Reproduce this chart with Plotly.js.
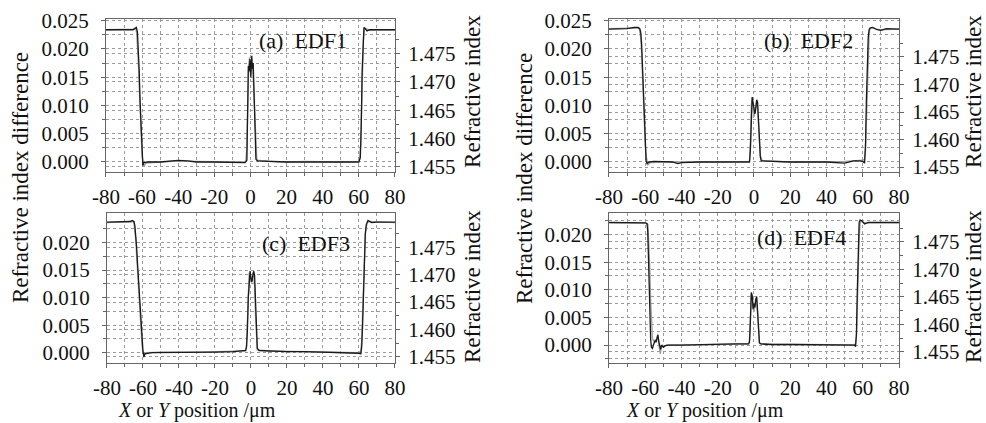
<!DOCTYPE html>
<html>
<head>
<meta charset="utf-8">
<script src="https://cdn.plot.ly/plotly-3.0.1.min.js"></script>
<style>html,body{margin:0;padding:0;background:#fff;}#chart{width:986px;height:423px;}</style>
</head>
<body>
<div id="chart"></div>
<script>
// ---------- data ----------
const xTickVals = [-80, -60, -40, -20, 0, 20, 40, 60, 80];
const xTickText = ['-80', '-60', '-40', '-20', '0', '20', '40', '60', '80'];
const diffTickVals = [0, 0.005, 0.010, 0.015, 0.020, 0.025];
const diffTickText = ['0.000', '0.005', '0.010', '0.015', '0.020', '0.025'];
const nTickVals = [1.455, 1.460, 1.465, 1.470, 1.475];
const nTickText = ['1.455', '1.460', '1.465', '1.470', '1.475'];
const panelLabels = ['(a)\u00a0\u00a0EDF1', '(b)\u00a0\u00a0EDF2', '(c)\u00a0\u00a0EDF3', '(d)\u00a0\u00a0EDF4'];

// EDF1
const xA1 = [-80,-70,-65,-64,-63.2,-62.6,-62.1,-61.6,-61.1,-60.6,-60.1,-59.6,-59,-57,-50,-45,-40,-35,-30,-20,-10,-3,-2,-1.6,-1.2,-0.8,-0.3,0.2,0.7,1.1,1.5,2,2.5,3,4,10,20,30,40,50,55,60,60.8,61.3,61.8,62.3,62.8,63.5,64.5,66,70,80];
const yA1 = [0.0234,0.0234,0.0234,0.0236,0.0238,0.0230,0.0205,0.0160,0.0105,0.0055,0.0015,-0.0006,-0.0001,0.0000,0.0000,0.0001,0.0003,0.0002,0.0000,0.0000,0.0000,-0.0001,0.0003,0.0090,0.0170,0.0160,0.0182,0.0150,0.0188,0.0165,0.0175,0.0120,0.0040,0.0005,0.0002,0.0001,0.0000,0.0000,0.0000,-0.0001,0.0000,0.0000,0.0008,0.0060,0.0160,0.0220,0.0238,0.0236,0.0232,0.0234,0.0234,0.0234];
const xA2 = [-80,-70,-65,-64,-63.5,-63,-62.5,-62,-61.5,-61,-60.5,-60,-59.5,-59,-58,-50,-40,-30,-20,-10,-3,-2.5,-2,-1.5,-1,-0.5,0,0.5,1,1.5,2,2.5,3,3.5,10,20,30,40,50,60,60.5,61,61.5,62,62.5,63,63.5,64,66,70,80];
const yA2 = [0.0234,0.0234,0.0235,0.0237,0.0236,0.0228,0.0205,0.0170,0.0125,0.0080,0.0040,0.0012,0.0000,-0.0008,-0.0002,0.0000,0.0002,0.0001,0.0000,0.0000,0.0000,0.0003,0.0030,0.0120,0.0170,0.0185,0.0160,0.0175,0.0170,0.0150,0.0110,0.0060,0.0015,0.0003,0.0001,0.0000,0.0001,0.0000,0.0000,0.0001,0.0005,0.0030,0.0100,0.0170,0.0215,0.0232,0.0237,0.0236,0.0233,0.0234,0.0234];

// EDF2
const xB1 = [-80,-70,-66,-64,-63,-62.5,-62,-61.5,-61,-60.5,-60,-59.5,-59,-58,-55,-50,-45,-42,-40,-30,-20,-10,-2.5,-2,-1.5,-1,-0.5,0,0.5,1,1.5,2,2.5,3,3.5,4,10,20,30,40,50,55,58,60,61,61.5,62,62.5,63,63.5,64,65.5,68,70,73,80];
const yB1 = [0.0235,0.0236,0.0238,0.0238,0.0236,0.0230,0.0210,0.0170,0.0115,0.0060,0.0020,0.0002,-0.0003,0.0000,0.0001,0.0001,0.0000,-0.0003,-0.0001,0.0000,0.0000,0.0000,0.0000,0.0020,0.0090,0.0115,0.0105,0.0090,0.0085,0.0095,0.0110,0.0105,0.0075,0.0035,0.0008,0.0002,0.0001,0.0000,0.0000,0.0000,-0.0002,0.0002,0.0002,0.0001,-0.0002,0.0030,0.0110,0.0180,0.0220,0.0234,0.0237,0.0238,0.0234,0.0233,0.0236,0.0235];
const xB2 = [-80,-70,-65,-63.5,-63,-62.5,-62,-61.5,-61,-60.5,-60,-59.5,-59,-58.5,-57,-50,-40,-30,-20,-10,-2.5,-2,-1.5,-1,-0.5,0,0.5,1,1.5,2,2.5,3,3.5,4.5,10,20,30,40,50,60,61,61.5,62,62.5,63,63.5,64,65,67,70,80];
const yB2 = [0.0236,0.0237,0.0238,0.0237,0.0232,0.0220,0.0195,0.0150,0.0100,0.0060,0.0030,0.0010,0.0000,-0.0005,-0.0001,0.0000,0.0000,0.0000,0.0000,0.0000,0.0001,0.0030,0.0100,0.0112,0.0095,0.0080,0.0090,0.0105,0.0108,0.0095,0.0070,0.0040,0.0012,0.0002,0.0001,0.0000,0.0000,0.0000,0.0001,0.0003,0.0005,0.0020,0.0070,0.0140,0.0195,0.0228,0.0236,0.0238,0.0235,0.0234,0.0235];

// EDF3
const xC1 = [-80,-70,-67,-66,-65,-64.5,-64,-63.5,-63,-62.5,-62,-61.5,-61,-60.5,-60,-59.5,-59,-55,-50,-40,-30,-20,-10,-4,-3,-2.5,-2,-1.5,-1,-0.5,0,0.5,1,1.5,2,2.5,3,3.5,4.5,10,20,30,40,50,55,60,61,61.5,62,62.5,63,63.5,64,65,67,70,80];
const yC1 = [0.0237,0.0237,0.0238,0.0240,0.0238,0.0230,0.0215,0.0190,0.0160,0.0130,0.0100,0.0070,0.0045,0.0020,0.0003,-0.0008,-0.0002,0.0000,0.0000,0.0001,0.0001,0.0001,0.0002,0.0003,0.0004,0.0010,0.0040,0.0100,0.0140,0.0148,0.0135,0.0128,0.0140,0.0148,0.0140,0.0100,0.0040,0.0008,0.0004,0.0003,0.0002,0.0002,0.0001,0.0001,0.0000,-0.0001,-0.0002,0.0010,0.0050,0.0120,0.0180,0.0215,0.0232,0.0240,0.0236,0.0237,0.0237];
const xC2 = [-80,-66,-65,-64.5,-64,-63.5,-63,-62.5,-62,-61.5,-61,-60.5,-60,-59.5,-58,-50,-30,-10,-3,-2.5,-2,-1.5,-1,-0.5,0,0.5,1,1.5,2,2.5,3,3.5,10,30,50,60,61,61.5,62,62.5,63,63.5,64.5,66,80];
const yC2 = [0.0236,0.0238,0.0236,0.0225,0.0205,0.0175,0.0145,0.0115,0.0085,0.0055,0.0030,0.0012,0.0000,-0.0004,0.0000,0.0001,0.0001,0.0002,0.0003,0.0012,0.0050,0.0110,0.0145,0.0140,0.0128,0.0130,0.0145,0.0142,0.0120,0.0070,0.0020,0.0005,0.0003,0.0002,0.0001,0.0000,0.0003,0.0020,0.0070,0.0130,0.0180,0.0215,0.0236,0.0238,0.0236];

// EDF4
const xD1 = [-80,-70,-60,-59,-58.6,-58.3,-58,-57.7,-57.4,-57,-56.6,-56,-55.5,-55,-54.5,-54,-53.5,-53,-52.5,-52,-51.5,-51,-50,-49,-47,-40,-30,-20,-10,-3,-2.5,-2,-1.5,-1,-0.5,0,0.5,1,1.5,2,2.5,3,4,10,20,30,40,50,54,55.5,56,56.5,57,57.5,58,58.5,59.5,61,63,70,80];
const yD1 = [0.0222,0.0222,0.0221,0.0220,0.0205,0.0170,0.0120,0.0070,0.0030,0.0010,-0.0004,-0.0006,0.0000,0.0003,0.0008,0.0006,0.0012,0.0018,0.0006,-0.0004,-0.0008,0.0000,-0.0004,-0.0001,0.0000,0.0000,0.0001,0.0002,0.0002,0.0002,0.0005,0.0040,0.0095,0.0090,0.0065,0.0075,0.0068,0.0082,0.0088,0.0060,0.0020,0.0004,0.0002,0.0001,0.0001,0.0001,0.0001,0.0001,0.0001,0.0000,-0.0003,0.0020,0.0100,0.0180,0.0222,0.0226,0.0225,0.0219,0.0222,0.0222,0.0222];
const xD2 = [-80,-60,-58.5,-58,-57.5,-57,-56.5,-56,-55.5,-55,-54.5,-54,-53.5,-53,-52.5,-52,-51.7,-51.3,-50.5,-49.5,-48,-40,-20,-3,-2.5,-2,-1.5,-1,-0.5,0,0.5,1,1.5,2,2.5,3,3.5,10,30,50,55,56,56.5,57,57.5,58,58.5,59,60,62,80];
const yD2 = [0.0221,0.0221,0.0218,0.0190,0.0140,0.0080,0.0035,0.0012,0.0008,0.0005,0.0010,0.0004,0.0014,0.0020,0.0002,-0.0010,-0.0016,-0.0006,0.0000,-0.0003,0.0000,0.0000,0.0001,0.0002,0.0008,0.0050,0.0090,0.0088,0.0070,0.0060,0.0072,0.0085,0.0080,0.0050,0.0015,0.0004,0.0002,0.0001,0.0001,0.0001,0.0000,0.0002,0.0015,0.0070,0.0140,0.0195,0.0220,0.0225,0.0222,0.0221,0.0221];

// axis ranges (left: index difference, right: refractive index)
const diffRanges = [[-0.00177, 0.0253], [-0.00177, 0.0253], [-0.00187, 0.02535], [-0.00325, 0.0239]];
const nRanges = [[1.45407, 1.48114], [1.4541, 1.4819], [1.45384, 1.48131], [1.45295, 1.48027]];

// ---------- layout ----------
const FONT = '"Liberation Serif", "DejaVu Serif", serif';
const series = [[xA1, yA1, xA2, yA2], [xB1, yB1, xB2, yB2], [xC1, yC1, xC2, yC2], [xD1, yD1, xD2, yD2]];
const xDomains = [[0.1075, 0.4006], [0.6176, 0.9118], [0.1085, 0.4006], [0.6176, 0.9118]];
const yDomains = [[0.5934, 0.9551], [0.5934, 0.9551], [0.1418, 0.4965], [0.1418, 0.4965]];
const gridC = '#9a9a9a';
const lineC = '#666';

const data = [];
const layout = {
  width: 986, height: 423,
  margin: {l: 0, r: 0, t: 0, b: 0},
  paper_bgcolor: '#fff', plot_bgcolor: '#fff',
  showlegend: false,
  font: {family: FONT, size: 21, color: '#111'},
  annotations: []
};

for (let i = 0; i < 4; i++) {
  const xn = i + 1, yl = i + 1, yr = i + 5;
  const [x1, y1, x2, y2] = series[i];
  data.push({x: x2, y: y2, type: 'scatter', mode: 'lines', xaxis: 'x' + xn, yaxis: 'y' + yl,
             line: {color: '#a0a0a0', width: 1.4}, hoverinfo: 'skip'});
  data.push({x: x1, y: y1, type: 'scatter', mode: 'lines', xaxis: 'x' + xn, yaxis: 'y' + yl,
             line: {color: '#1a1a1a', width: 1.3}, hoverinfo: 'skip'});
  data.push({x: [], y: [], type: 'scatter', mode: 'lines', xaxis: 'x' + xn, yaxis: 'y' + yr, hoverinfo: 'skip'});

  const dvals = (i >= 2) ? diffTickVals.slice(0, 5) : diffTickVals;
  const dtext = (i >= 2) ? diffTickText.slice(0, 5) : diffTickText;

  layout['xaxis' + xn] = {
    domain: xDomains[i], anchor: 'y' + yl, range: [-80, 80],
    tickmode: 'array', tickvals: xTickVals, ticktext: xTickText,
    ticks: 'outside', ticklen: 4, tickcolor: lineC, ticklabelstandoff: 2,
    showline: true, mirror: true, linecolor: lineC, linewidth: 1,
    showgrid: true, gridcolor: gridC, griddash: 'dot', gridwidth: 1, zeroline: false,
    minor: {tickvals: [-70, -50, -30, -10, 10, 30, 50, 70], ticks: 'outside', ticklen: 3, tickcolor: lineC,
            showgrid: true, gridcolor: gridC, griddash: 'dot', gridwidth: 1},
    tickfont: {family: FONT, size: 21, color: '#111'}
  };
  layout['yaxis' + yl] = {
    domain: yDomains[i], anchor: 'x' + xn, range: diffRanges[i],
    tickmode: 'array', tickvals: dvals, ticktext: dtext,
    ticks: 'outside', ticklen: 4, tickcolor: lineC, ticklabelstandoff: 8,
    showline: true, mirror: true, linecolor: lineC, linewidth: 1,
    showgrid: true, gridcolor: gridC, griddash: 'dot', gridwidth: 1, zeroline: false,
    minor: {tickvals: [-0.0025, 0.0025, 0.0075, 0.0125, 0.0175, 0.0225], ticks: 'outside', ticklen: 3, tickcolor: lineC,
            showgrid: true, gridcolor: gridC, griddash: 'dot', gridwidth: 1},
    tickfont: {family: FONT, size: 21, color: '#111'}
  };
  layout['yaxis' + yr] = {
    overlaying: 'y' + yl, side: 'right', anchor: 'x' + xn, range: nRanges[i],
    tickmode: 'array', tickvals: nTickVals, ticktext: nTickText,
    ticks: 'outside', ticklen: 4, tickcolor: lineC, ticklabelstandoff: 4,
    showline: true, linecolor: lineC, linewidth: 1,
    showgrid: true, gridcolor: gridC, griddash: 'dot', gridwidth: 1, zeroline: false,
    minor: {tickvals: [1.4575, 1.4625, 1.4675, 1.4725, 1.4775], ticks: 'outside', ticklen: 3, tickcolor: lineC},
    tickfont: {family: FONT, size: 21, color: '#111'}
  };
}

// panel labels
const labelPos = [[0.307, 0.9054], [0.8195, 0.9054], [0.3103, 0.4255], [0.8124, 0.4397]];
for (let i = 0; i < 4; i++) {
  layout.annotations.push({xref: 'paper', yref: 'paper', x: labelPos[i][0], y: labelPos[i][1],
    text: panelLabels[i], showarrow: false, xanchor: 'center', yanchor: 'middle',
    font: {family: FONT, size: 22, color: '#111'}});
}
// left titles (one per column, spanning both rows)
[0.0203, 0.5314].forEach(xp => layout.annotations.push({xref: 'paper', yref: 'paper', x: xp, y: 0.579,
  text: 'Refractive index difference', textangle: -90, showarrow: false,
  xanchor: 'center', yanchor: 'middle', font: {family: FONT, size: 23, color: '#111'}}));
// right titles (one per panel)
[[0.4797, 0.785], [0.9878, 0.785], [0.4797, 0.3239], [0.9878, 0.3239]].forEach(p => layout.annotations.push({
  xref: 'paper', yref: 'paper', x: p[0], y: p[1], text: 'Refractive index', textangle: -90, showarrow: false,
  xanchor: 'center', yanchor: 'middle', font: {family: FONT, size: 23, color: '#111'}}));
// x titles
[0.1998, 0.715].forEach(xp => layout.annotations.push({xref: 'paper', yref: 'paper', x: xp, y: 0.0284,
  text: '<i>X</i> or <i>Y</i> position /μm', showarrow: false, xanchor: 'center', yanchor: 'middle',
  font: {family: FONT, size: 20, color: '#111'}}));

Plotly.newPlot('chart', data, layout, {staticPlot: true, displayModeBar: false});
</script>
</body>
</html>
